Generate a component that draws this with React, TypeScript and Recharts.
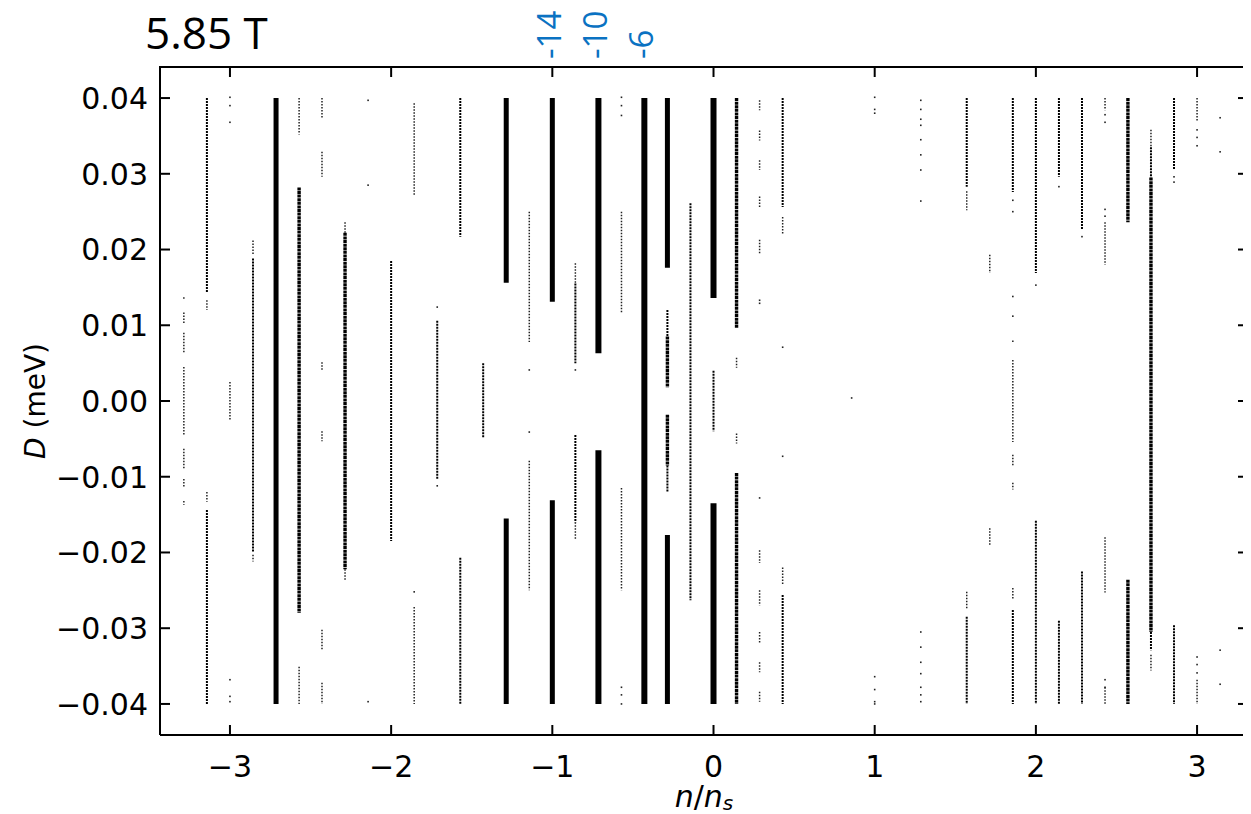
import React from 'react';
import { ComposedChart, Line, Scatter, XAxis, YAxis } from 'recharts';

// axis ticks
const nTicks = [-3, -2, -1, 0, 1, 2, 3];
const nTickLabels = ['\u22123', '\u22122', '\u22121', '0', '1', '2', '3'];
const dTicks = [-0.04, -0.03, -0.02, -0.01, 0, 0.01, 0.02, 0.03, 0.04];
const dTickLabels = ['\u22120.04', '\u22120.03', '\u22120.02', '\u22120.01', '0.00', '0.01', '0.02', '0.03', '0.04'];

// blue labels on top (Landau level filling)
const nuFillings = [-1, -0.714, -0.429];
const nuLabels = ['-14', '-10', '-6'];

// segments of gapped states: [n/ns, D from, D to] (meV), grouped by how many states overlap
const heavySegments: [number, number, number][] = [
  [-0.714, 0.04, 0.0063], [-0.714, -0.0065, -0.04],
  [-0.429, 0.04, -0.04],
  [0, 0.04, 0.0136], [0, -0.0135, -0.04],
];

const solidSegments: [number, number, number][] = [
  [-2.714, 0.04, -0.04],
  [-1.286, 0.04, 0.0156], [-1.286, -0.0155, -0.04],
  [-1.0, 0.04, 0.0131], [-1.0, -0.0131, -0.04],
  [-0.286, 0.04, 0.0176], [-0.286, -0.0177, -0.04],
];

const denseSegments: [number, number, number][] = [
  [-2.571, 0.0282, -0.028],
  [-2.286, 0.0222, -0.0222],
  [-0.286, 0.0085, 0.0018], [-0.286, -0.0018, -0.0085],
  [0.143, 0.04, 0.0096], [0.143, -0.0095, -0.04],
  [2.571, 0.04, 0.0236], [2.571, -0.0236, -0.04],
  [2.714, 0.0295, -0.0305],
];

const lightSegments: [number, number, number][] = [
  [-3.143, 0.04, 0.0144], [-3.143, -0.0144, -0.04],
  [-2.857, 0.0188, -0.02],
  [-2.0, 0.0185, -0.0185],
  [-1.714, 0.0106, -0.0104],
  [-1.571, 0.04, 0.0217], [-1.571, -0.0207, -0.04],
  [-1.429, 0.005, -0.0049],
  [-0.857, 0.0155, 0.005], [-0.857, -0.0045, -0.016],
  [-0.286, 0.012, 0.0085], [-0.286, -0.0085, -0.012],
  [-0.143, 0.0261, -0.0263],
  [0, 0.004, -0.004],
  [0.429, 0.04, 0.0256], [0.429, -0.0256, -0.04],
  [1.571, 0.04, 0.0283], [1.571, -0.0285, -0.04],
  [1.857, 0.04, 0.0276], [1.857, -0.0276, -0.04],
  [2.0, 0.04, 0.0169], [2.0, -0.0158, -0.04],
  [2.143, 0.04, 0.0296], [2.143, -0.029, -0.04],
  [2.286, 0.04, 0.0226], [2.286, -0.0225, -0.04],
  [2.714, 0.0335, 0.0295], [2.714, -0.0305, -0.0329],
  [2.857, 0.04, 0.0305], [2.857, -0.0296, -0.04],
];

const sparseSegments: [number, number, number][] = [
  [-3.286, 0.0137, 0.0134], [-3.286, 0.0117, 0.0103], [-3.286, 0.009, 0.0063], [-3.286, 0.0045, -0.0045],
  [-3.286, -0.0063, -0.009], [-3.286, -0.0103, -0.0115], [-3.286, -0.0132, -0.0137],
  [-3.143, 0.0133, 0.012], [-3.143, -0.012, -0.0133],
  [-3.0, 0.0025, -0.0025],
  [-2.857, 0.0212, 0.0192], [-2.857, -0.0203, -0.0212],
  [-2.571, 0.04, 0.0352], [-2.571, -0.0351, -0.04],
  [-2.429, 0.04, 0.0374], [-2.429, 0.0329, 0.0296], [-2.429, 0.0051, 0.0041],
  [-2.429, -0.004, -0.0053], [-2.429, -0.0302, -0.0329], [-2.429, -0.0372, -0.04],
  [-2.286, 0.0236, 0.0222], [-2.286, -0.0222, -0.0236],
  [-1.857, 0.0393, 0.0272], [-1.857, -0.0272, -0.04],
  [-1.143, 0.025, 0.0078], [-1.143, -0.0079, -0.025],
  [-0.857, 0.0182, 0.0155], [-0.857, -0.016, -0.0182],
  [-0.571, 0.025, 0.0116], [-0.571, -0.0115, -0.025],
  [0.143, 0.0057, 0.0044], [0.143, -0.0043, -0.0056],
  [0.286, 0.0397, 0.0384], [0.286, 0.0357, 0.0344], [0.286, 0.0318, 0.0305], [0.286, 0.027, 0.0256],
  [0.286, 0.0213, 0.0195], [0.286, -0.0197, -0.0214], [0.286, -0.025, -0.027], [0.286, -0.0305, -0.032],
  [0.286, -0.0345, -0.0358], [0.286, -0.0384, -0.0397],
  [0.429, 0.0243, 0.022], [0.429, -0.022, -0.0243],
  [1.571, 0.0277, 0.0252], [1.571, -0.0252, -0.0275],
  [1.714, 0.0193, 0.0169], [1.714, -0.0168, -0.019],
  [1.857, 0.008, 0.0077], [1.857, 0.0054, -0.0054], [1.857, -0.0071, -0.0085],
  [1.857, -0.0108, -0.0117], [1.857, -0.0247, -0.0262],
  [2.429, 0.04, 0.0384], [2.429, 0.0236, 0.018], [2.429, -0.018, -0.0253], [2.429, -0.0378, -0.04],
  [2.714, 0.0358, 0.0335], [2.714, -0.0335, -0.0356],
  [3.0, 0.04, 0.037], [3.0, -0.0368, -0.04],
];

// single points: [n/ns, D]
const isolatedDots: [number, number][] = [
  [-3.0, 0.0401], [-3.0, 0.039], [-3.0, 0.0368], [-3.0, -0.0368], [-3.0, -0.039], [-3.0, -0.0397],
  [-2.143, 0.0397], [-2.143, 0.0285], [-2.143, -0.0397],
  [-1.857, -0.0252],
  [-1.714, 0.0124], [-1.714, -0.0112],
  [-1.143, 0.0041], [-1.143, -0.0041],
  [-0.857, 0.0041],
  [-0.571, 0.0401], [-0.571, 0.039], [-0.571, 0.0377], [-0.571, -0.0378], [-0.571, -0.0388], [-0.571, -0.04],
  [0.286, 0.0133], [0.286, 0.0129], [0.286, -0.0128],
  [0.429, 0.0071], [0.429, -0.0073],
  [0.857, 0.0004],
  [1.0, 0.0401], [1.0, 0.0385], [1.0, 0.038], [1.0, -0.0364], [1.0, -0.0381], [1.0, -0.0397], [1.0, -0.04],
  [1.286, 0.0397], [1.286, 0.0385], [1.286, 0.0372], [1.286, 0.0364], [1.286, 0.0345], [1.286, 0.0325],
  [1.286, 0.0305], [1.286, 0.0264], [1.286, -0.0305], [1.286, -0.0325], [1.286, -0.0345], [1.286, -0.036],
  [1.286, -0.0378], [1.286, -0.0388], [1.286, -0.0397],
  [1.857, 0.0265], [1.857, 0.025], [1.857, 0.0138], [1.857, 0.0112],
  [2.0, 0.0153],
  [2.143, 0.0283],
  [2.286, 0.0217],
  [2.429, 0.0378], [2.429, 0.0368], [2.429, 0.0253], [2.429, 0.0244], [2.429, -0.0368], [2.429, -0.0378],
  [2.857, 0.0296], [2.857, 0.0289],
  [3.0, 0.0358], [3.0, 0.0348], [3.0, 0.0337], [3.0, -0.0338], [3.0, -0.0348], [3.0, -0.0359],
  [3.143, 0.0374], [3.143, 0.0329], [3.143, -0.0329], [3.143, -0.0374],
];

const W = 1243;
const H = 806;
const TOP_H = 20;
const margin = { top: 59 - TOP_H, right: 3, bottom: 39, left: 82 };
const FONT = '"DejaVu Sans", sans-serif';
const TICK = 10;
const N_DOMAIN: [number, number] = [-3.434, 3.316];
const D_DOMAIN: [number, number] = [-0.0441, 0.0441];

// plot box inside the chart
const PLOT_LEFT = margin.left + 70;
const PLOT_TOP = margin.top + TOP_H;
const PLOT_BOTTOM = H - margin.bottom - 40;
const PLOT_RIGHT = W - margin.right;

// vertical segments -> one line series with gaps between segments
const toLine = (segs: [number, number, number][]) =>
  segs.flatMap(([n, a, b]) => [{ n, d: a }, { n, d: b }, { n, d: null }]);

const styles = [
  { segs: sparseSegments, stroke: '#222', width: 1.5, dash: '1.5 1.5' },
  { segs: lightSegments, stroke: '#000', width: 2, dash: '2 1' },
  { segs: denseSegments, stroke: '#000', width: 3.4, dash: '3 0.6' },
  { segs: solidSegments, stroke: '#000', width: 5, dash: undefined },
  { segs: heavySegments, stroke: '#000', width: 6, dash: undefined },
];

const BottomTick = (props: any) => {
  const { x, y, payload } = props;
  const i = nTicks.indexOf(payload.value);
  return (
    <g>
      <line x1={x} x2={x} y1={y} y2={y - TICK} stroke="#000" strokeWidth={2} />
      <line x1={x} x2={x} y1={PLOT_TOP} y2={PLOT_TOP + TICK} stroke="#000" strokeWidth={2} />
      <text x={x} y={y + 42} textAnchor="middle" fontFamily={FONT} fontSize={30} fill="#000">
        {nTickLabels[i]}
      </text>
    </g>
  );
};

const TopLabel = (props: any) => {
  const { x, y, payload } = props;
  const k = nuFillings.indexOf(payload.value);
  if (k < 0) return <g />;
  return (
    <text
      x={x - 3}
      y={y - 8}
      dy="0.36em"
      transform={`rotate(-90, ${x - 3}, ${y - 8})`}
      textAnchor="start"
      fontFamily='"Open Sans", sans-serif'
      fontSize={33}
      fill="#0a72c2"
    >
      {nuLabels[k]}
    </text>
  );
};

const LeftTick = (props: any) => {
  const { x, y, payload } = props;
  const i = dTicks.findIndex((t) => Math.abs(t - payload.value) < 1e-9);
  return (
    <g>
      <line x1={x} x2={x + TICK} y1={y} y2={y} stroke="#000" strokeWidth={2} />
      <line x1={PLOT_RIGHT} x2={PLOT_RIGHT - TICK} y1={y} y2={y} stroke="#000" strokeWidth={2} />
      <text x={x - 12} y={y} dy="0.36em" textAnchor="end" fontFamily={FONT} fontSize={30} fill="#000">
        {dTickLabels[i]}
      </text>
    </g>
  );
};

const Dot = (props: any) => {
  const { cx, cy } = props;
  return <rect x={cx - 0.8} y={cy - 0.8} width={1.6} height={1.6} fill="#222" />;
};

export default function App() {
  const midY = (PLOT_TOP + PLOT_BOTTOM) / 2;
  return (
    <div style={{ position: 'relative', width: W, height: H }}>
      <ComposedChart width={W} height={H} margin={margin}>
        <XAxis
          xAxisId="main"
          dataKey="n"
          type="number"
          domain={N_DOMAIN}
          allowDataOverflow
          ticks={nTicks}
          interval={0}
          tick={<BottomTick />}
          tickLine={false}
          tickSize={0}
          tickMargin={0}
          height={40}
          axisLine={{ stroke: '#000', strokeWidth: 2 }}
        />
        <XAxis
          xAxisId="top"
          orientation="top"
          dataKey="n"
          type="number"
          domain={N_DOMAIN}
          allowDataOverflow
          ticks={nuFillings}
          interval={0}
          tick={<TopLabel />}
          tickLine={false}
          tickSize={0}
          tickMargin={0}
          height={TOP_H}
          axisLine={false}
        />
        <YAxis
          yAxisId="left"
          dataKey="d"
          type="number"
          domain={D_DOMAIN}
          allowDataOverflow
          ticks={dTicks}
          interval={0}
          tick={<LeftTick />}
          tickLine={false}
          tickSize={0}
          tickMargin={0}
          width={70}
          axisLine={{ stroke: '#000', strokeWidth: 2 }}
        />
        {styles.map((s, i) => (
          <Line
            key={i}
            xAxisId="main"
            yAxisId="left"
            data={toLine(s.segs)}
            dataKey="d"
            type="linear"
            stroke={s.stroke}
            strokeWidth={s.width}
            strokeDasharray={s.dash}
            dot={false}
            activeDot={false}
            connectNulls={false}
            isAnimationActive={false}
          />
        ))}
        <Scatter
          xAxisId="top"
          yAxisId="left"
          data={isolatedDots.map(([n, d]) => ({ n, d }))}
          dataKey="d"
          shape={<Dot />}
          isAnimationActive={false}
        />
      </ComposedChart>
      <div
        style={{
          position: 'absolute',
          left: 137,
          top: 0,
          fontFamily: '"Open Sans", sans-serif',
          fontSize: 44,
          color: '#000',
          lineHeight: '48px',
        }}
      >
        5.85 T
      </div>
      <svg
        width={W}
        height={H}
        style={{ position: 'absolute', left: 0, top: 0, pointerEvents: 'none' }}
      >
        {/* frame (top and right edges) */}
        <line x1={PLOT_LEFT - 1} x2={PLOT_RIGHT + 1} y1={PLOT_TOP} y2={PLOT_TOP} stroke="#000" strokeWidth={2} />
        <line x1={PLOT_RIGHT} x2={PLOT_RIGHT} y1={PLOT_TOP} y2={PLOT_BOTTOM + 1} stroke="#000" strokeWidth={2} />
        <text
          x={27}
          y={midY}
          dy="0.35em"
          textAnchor="middle"
          transform={`rotate(-90, 27, ${midY})`}
          fontFamily={FONT}
          fontSize={28}
          fill="#000"
        >
          <tspan fontStyle="italic">D</tspan> (meV)
        </text>
        <text x={(PLOT_LEFT + PLOT_RIGHT) / 2} y={799} textAnchor="middle" fontFamily={FONT} fontSize={30} fill="#000">
          <tspan fontStyle="italic">n</tspan>/<tspan fontStyle="italic">n</tspan>
          <tspan fontStyle="italic" fontSize={20} dy={3}>s</tspan>
        </text>
      </svg>
    </div>
  );
}
